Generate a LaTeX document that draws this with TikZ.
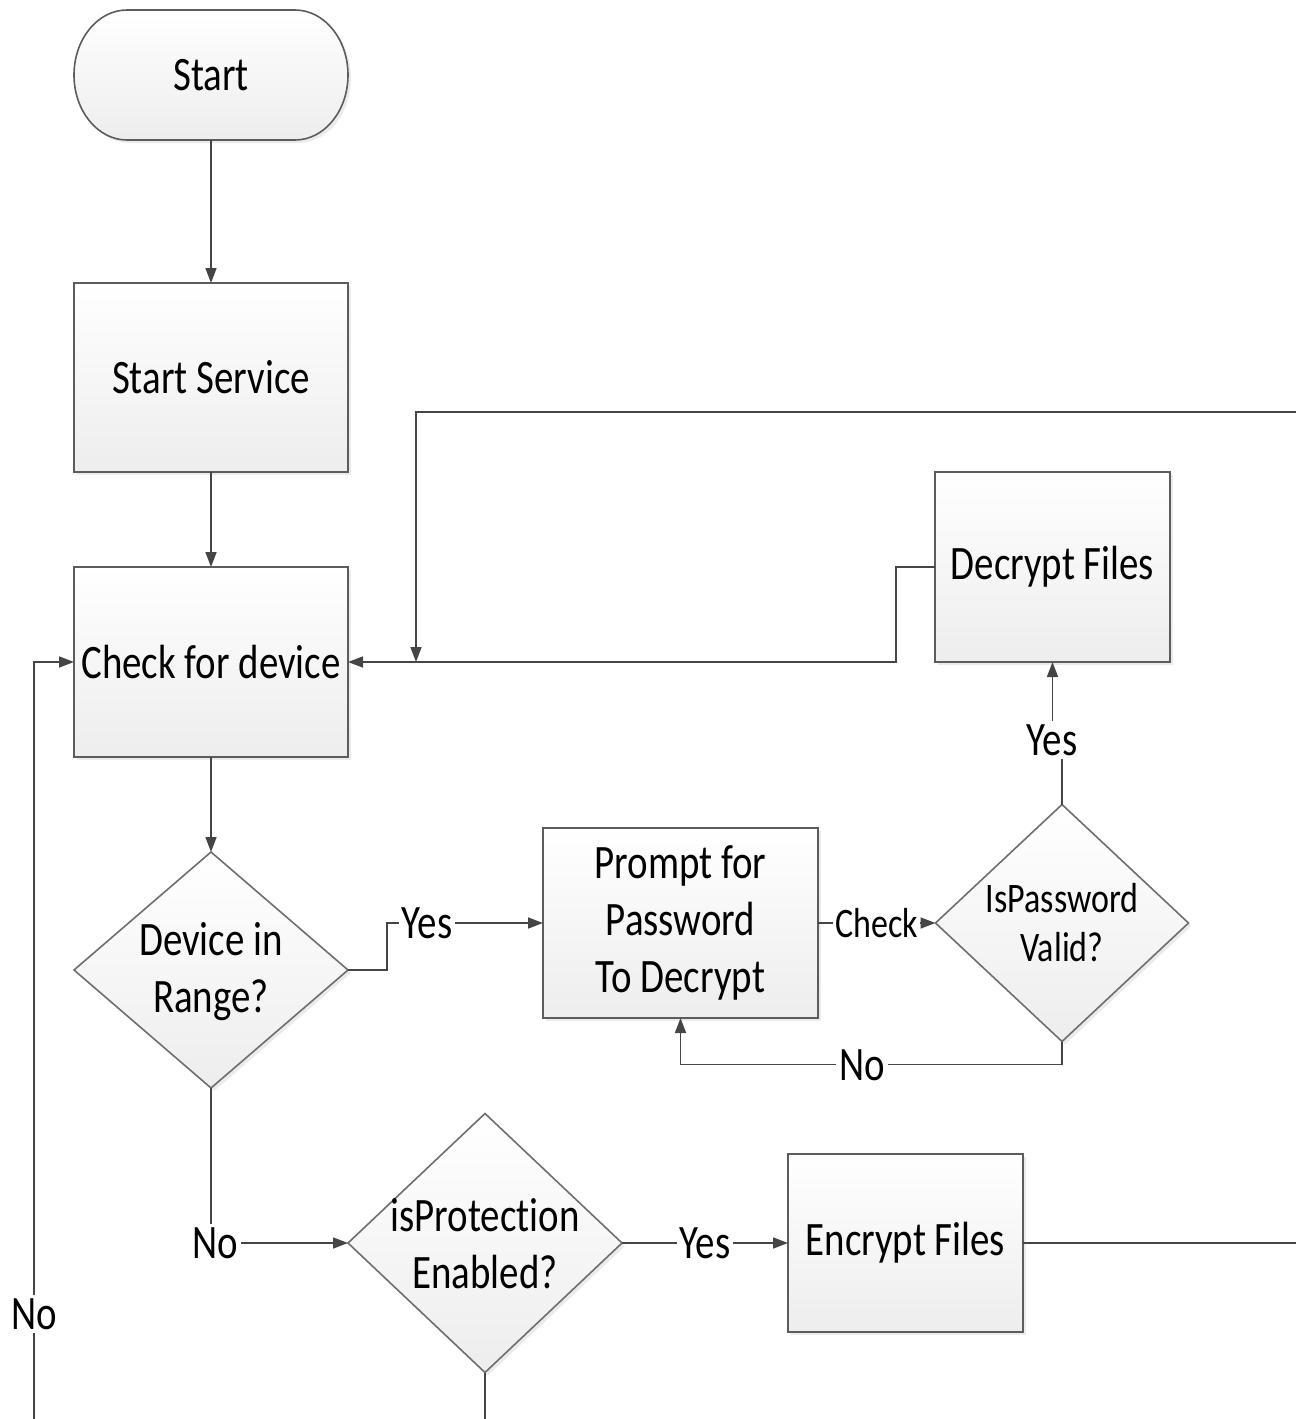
\documentclass[tikz,border=0pt]{standalone}
\usepackage{fontspec}
\setmainfont{Carlito}[FakeStretch=0.81, Ligatures=NoCommon]
\usetikzlibrary{arrows.meta,shapes.geometric,shadows}
\newcommand{\bigfnt}{\fontsize{24}{28.5}\selectfont}
\newcommand{\smfnt}{\fontsize{21}{24.5}\selectfont}
\definecolor{linec}{HTML}{454545}
\definecolor{boxc}{HTML}{5C5C5C}
\definecolor{dmc}{HTML}{6E6E6E}
\tikzset{
  shadowed/.style={drop shadow={shadow xshift=1.5pt, shadow yshift=-1.5pt, fill=black, opacity=0.08}},
  shade/.style={top color=white, bottom color=black!7},
  procbox/.style={rectangle, draw=boxc, line width=1.3pt, shade, shadowed,
    outer sep=0pt, inner sep=2pt, align=center, font=\bigfnt},
  decbox/.style={diamond, draw=dmc, line width=0.8pt, shade, shadowed,
    outer sep=0pt, inner sep=0pt},
  dtext/.style={align=center, inner sep=0pt},
  conn/.style={draw=linec, line width=0.8pt, -{Triangle[length=7.5pt,width=5.5pt]}},
  plain/.style={draw=linec, line width=0.8pt},
  lbl/.style={fill=white, inner sep=1.5pt, font=\bigfnt},
  slbl/.style={fill=white, inner sep=1pt, font=\smfnt},
}
\begin{document}
\begin{tikzpicture}[x=0.5pt, y=-0.5pt]
\useasboundingbox (0,0) rectangle (1296,1419);

% Start terminal
\path[draw=boxc, line width=0.8pt, shade, shadowed]
  (127,10) -- (295,10) .. controls (324.3,10) and (348,39.1) .. (348,75)
  .. controls (348,110.9) and (324.3,140) .. (295,140) -- (127,140)
  .. controls (97.7,140) and (74,110.9) .. (74,75)
  .. controls (74,39.1) and (97.7,10) .. (127,10) -- cycle;
\node[minimum width=137pt, minimum height=65pt, outer sep=0pt, font=\bigfnt] (start) at (211,75) {Start};

% Process boxes
\node[procbox, minimum width=137pt, minimum height=94.5pt] (ss) at (211,377.5) {Start Service};
\node[procbox, minimum width=137pt, minimum height=95pt] (chk) at (211,662) {Check for device};
\node[procbox, minimum width=117.5pt, minimum height=95pt] (dec) at (1052.5,567) {Decrypt Files};
\node[procbox, minimum width=137.5pt, minimum height=95pt] (pr) at (680.5,923) {Prompt for\\Password\\To Decrypt};
\node[procbox, minimum width=117.5pt, minimum height=89pt] (enc) at (905.5,1243) {Encrypt Files};

% Decisions
\node[decbox, minimum width=137pt, minimum height=118pt] (dev) at (211,970) {};
\node[dtext, font=\bigfnt] (devt) at (211,972) {Device in\\Range?};
\node[decbox, minimum width=126.5pt, minimum height=118.5pt] (pv) at (1062,923) {};
\node[dtext, font=\smfnt] (pvt) at (1062,923) {IsPassword\\Valid?};
\node[decbox, minimum width=137pt, minimum height=129.5pt] (prot) at (485,1243) {};
\node[dtext, font=\bigfnt] (prott) at (485,1244) {isProtection\\Enabled?};

% Edge coordinates
\coordinate (edgeR) at (1296,412);
\coordinate (j1) at (416,662);
\coordinate (edgeE) at (1296,1243);
\coordinate (edgeP) at (485,1419);
\coordinate (edgeL) at (34,1419);

% Connectors
\draw[conn] (start.south) -- (ss.north);
\draw[conn] (ss.south) -- (chk.north);
\draw[conn] (chk.south) -- (dev.north);
\draw[conn] (dev.east) -- ++(39,0) |- (pr.west);
\node[lbl] (ly1) at (427,923) {Yes};
\draw[conn] (pr.east) -- node[slbl] (lchk) {Check} (pv.west);
\draw[conn] (pv.south) -- ++(0,23) -| (pr.south);
\node[lbl] (lno1) at (862,1065) {No};
\draw[conn] (pv.north) -- (1062,740) -- (1052.5,740) -- (dec.south);
\node[lbl] (ly2) at (1052,740) {Yes};
\draw[conn] (dec.west) -- (896,567) |- (chk.east);
\draw[conn] (edgeR) -| (j1);
\draw[plain] (enc.east) -- (edgeE);
\draw[conn] (dev.south) |- (prot.west);
\node[lbl] (lno2) at (215,1243) {No};
\draw[conn] (prot.east) -- node[lbl] (ly3) {Yes} (enc.west);
\draw[plain] (prot.south) -- (edgeP);
\draw[conn] (edgeL) |- (chk.west);
\node[lbl] (lno3) at (34,1314) {No};
\end{tikzpicture}
\end{document}
